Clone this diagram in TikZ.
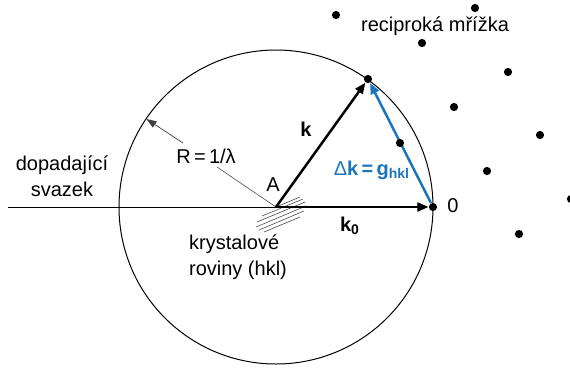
\documentclass[tikz,border=0pt]{standalone}
\usepackage{fontspec}
\setmainfont{Liberation Sans}
\usetikzlibrary{arrows.meta}
\definecolor{gblue}{RGB}{27,117,188}
\pgfdeclarelayer{back}
\pgfsetlayers{back,main}
\begin{document}
\begin{tikzpicture}[x=0.5pt,y=-0.5pt,
  dot/.style={circle,fill=black,inner sep=0pt,minimum size=4.1pt},
  lbl/.style={inner sep=0pt,font=\fontsize{10}{13}\selectfont},
  vec/.style={line width=1.25pt,-{Triangle[length=5.5pt,width=4.4pt]}},
  thinln/.style={line width=0.5pt},
  raxis/.style={line width=0.35pt,draw=black!75,-{Triangle[length=5pt,width=3.6pt]}},
  hatch/.style={line width=0.3pt,draw=black!70}]
\path[use as bounding box] (0,0) rectangle (570,372);
% points
\coordinate (A) at (276,207);
\coordinate (src) at (8,207);
\node[dot] (O) at (433,207) {};
\node[dot] (K) at (368,79) {};
\node[dot] (M) at (400,143) {};
\node[dot] (d1) at (336,15) {};
\node[dot] (d2) at (475,8) {};
\node[dot] (d3) at (422,43) {};
\node[dot] (d4) at (508,72) {};
\node[dot] (d5) at (454,107) {};
\node[dot] (d6) at (540,135) {};
\node[dot] (d7) at (487,171) {};
\node[dot] (d8) at (571,199) {};
\node[dot] (d9) at (519,234) {};
\begin{pgfonlayer}{back}
% Ewald circle
\draw[thinln] (A) circle[radius=78.5pt];
% incident beam
\draw[thinln] (src) -- (A);
% hatching (crystal planes)
\draw[hatch] (276,207) -- (300,197);
\draw[hatch] (262,216) -- (303,199);
\draw[hatch] (257,222) -- (305,202);
\draw[hatch] (256,227) -- (306,206);
\draw[hatch] (259,230) -- (304,211);
\draw[hatch] (264,232) -- (300,217);
% radius arrow
\coordinate (r1) at (217,167);
\coordinate (r2) at (183,143);
\coordinate (Rt) at (146.5,119);
\draw[hatch] (A) -- (r1);
\draw[raxis] (r2) -- (Rt);
% vectors
\draw[vec] (A) -- (O);
\draw[vec] (A) -- (K);
\draw[vec,draw=gblue,fill=gblue] (O) -- (K);
\end{pgfonlayer}
% labels
\node[lbl] (tR) at (206,156) {R\,=\,1/λ};
\node[lbl] (tA) at (273,185) {A};
\node[lbl] (tk) at (306,129) {\textbf{k}};
\node[lbl] (tk0) at (350,226) {\textbf{k\textsubscript{0}}};
\node[lbl,text=gblue] (tg) at (372,170) {Δ\textbf{k\,=\,g}\textsubscript{\textbf{hkl}}};
\node[lbl] (t0) at (453,206) {0};
\node[lbl,align=center] (tin) at (62,176) {dopadající\\svazek};
\node[lbl,align=left] (tcr) at (238,257) {krystalové\\roviny (hkl)};
\node[lbl] (trec) at (435,26) {reciproká mřížka};
\end{tikzpicture}
\end{document}
